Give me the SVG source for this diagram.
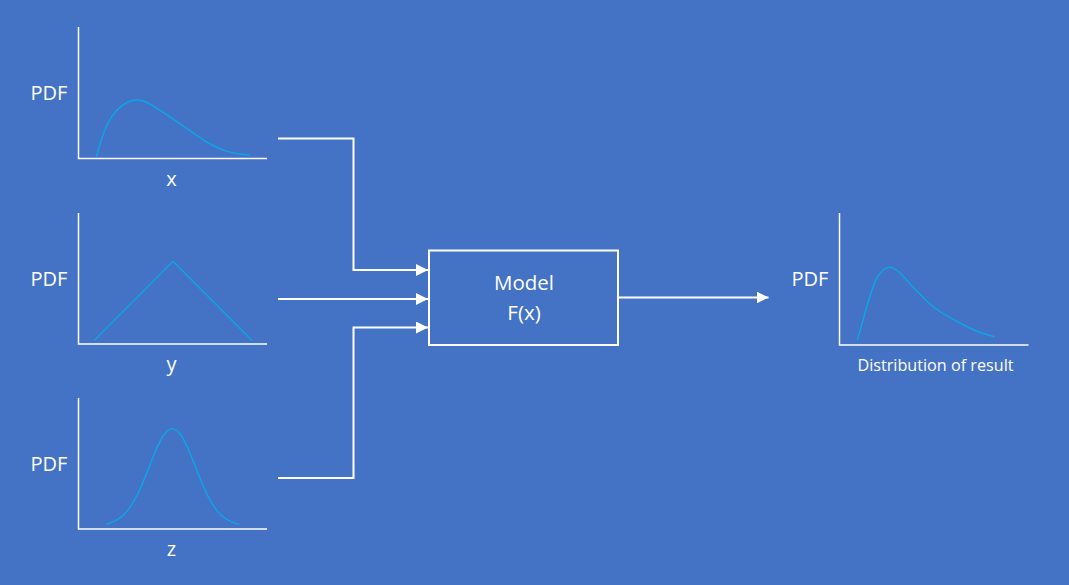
<svg xmlns="http://www.w3.org/2000/svg" width="1069" height="585" viewBox="0 0 1069 585">
<style>
.lbl{font-family:"Open Sans","Liberation Sans",sans-serif;fill:#fff}
.pdf{font-size:20px}
.ax{fill:none;stroke:#fff;stroke-width:1.5}
.cv{fill:none;stroke:#0FA3E8;stroke-width:1.5}
.conn{fill:none;stroke:#fff;stroke-width:2}
</style>
<defs>
<marker id="ah" viewBox="0 0 12 12" refX="12" refY="6" markerWidth="12" markerHeight="12" markerUnits="userSpaceOnUse" orient="auto">
<path d="M0,0 L12,6 L0,12 Z" fill="#fff"/>
</marker>
</defs>
<rect width="1069" height="585" fill="#4472C4"/>
<g id="chart-x">
<path class="ax" d="M78.5,27 V158.5 H267"/>
<path class="cv" d="M96.5,156.5 C102,135 110,110 128,102 C134,99.5 140,99 146,102 C165,112 185,128 205,141 C222,151 232,154 250,155"/>
<text class="lbl pdf" x="49" y="100" text-anchor="middle">PDF</text>
<text class="lbl pdf" x="171.5" y="186" text-anchor="middle">x</text>
</g>
<g id="chart-y">
<path class="ax" d="M78.5,213 V344 H267"/>
<path class="cv" d="M94,340.7 L173,261.3 L252.3,340.7"/>
<text class="lbl pdf" x="49" y="286" text-anchor="middle">PDF</text>
<text class="lbl pdf" x="171.5" y="371" text-anchor="middle">y</text>
</g>
<g id="chart-z">
<path class="ax" d="M78.5,398 V529 H267"/>
<polyline class="cv" points="106.3,524.5 112.3,522.1 117.3,519.7 122.3,516.2 127.3,511.0 132.3,503.9 137.3,494.8 142.3,483.9 147.3,471.6 152.3,458.8 157.3,446.9 162.3,437.0 167.3,430.6 172.3,428.3 177.3,430.6 182.3,437.0 187.3,446.9 192.3,458.8 197.3,471.6 202.3,483.9 207.3,494.8 212.3,503.9 217.3,511.0 222.3,516.2 227.3,519.7 232.3,522.1 239.3,524.5"/>
<text class="lbl pdf" x="49" y="471" text-anchor="middle">PDF</text>
<text class="lbl pdf" x="171.5" y="556" text-anchor="middle">z</text>
</g>
<g id="model">
<rect x="429" y="250.5" width="189" height="94.5" fill="none" stroke="#fff" stroke-width="2"/>
<text class="lbl" x="524" y="290" text-anchor="middle" font-size="20.5">Model</text>
<text class="lbl" x="524" y="320" text-anchor="middle" font-size="20.5">F(x)</text>
</g>
<g id="chart-result">
<path class="ax" d="M839.5,213 V345 H1028.5"/>
<path class="cv" d="M857.3,340 C865,315 870,290 877,278 C882,269 886,267 890,267.3 C898,268 905,279 913,287 C922,297 930,305 940,311.7 C950,318 958,322 967,326.7 C978,332 986,335 995,336.7"/>
<text class="lbl pdf" x="810" y="286" text-anchor="middle">PDF</text>
<text class="lbl" x="935.5" y="371" text-anchor="middle" font-size="16.2">Distribution of result</text>
</g>
<g id="connectors">
<path class="conn" d="M278,138.5 H353.5 V270 H428" marker-end="url(#ah)"/>
<path class="conn" d="M278,299 H428" marker-end="url(#ah)"/>
<path class="conn" d="M278,478 H353.5 V327.5 H428" marker-end="url(#ah)"/>
<path class="conn" d="M618,297.5 H768.5" marker-end="url(#ah)"/>
</g>
</svg>
